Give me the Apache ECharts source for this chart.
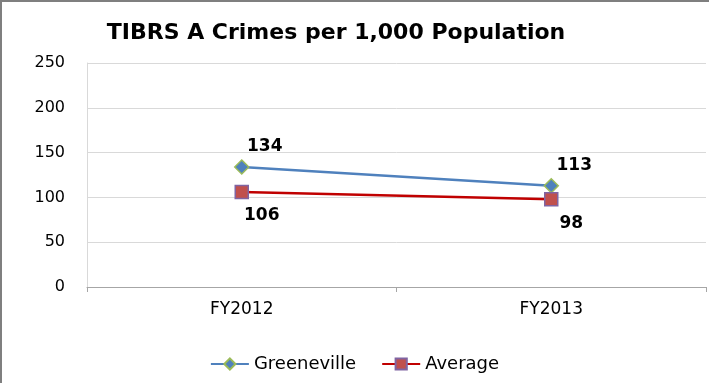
<!DOCTYPE html>
<html><head><meta charset="utf-8">
<script src="https://cdn.jsdelivr.net/npm/echarts@6/dist/echarts.min.js"></script>
<style>html,body{margin:0;padding:0;background:#fff}#c{width:709px;height:383px}</style>
</head><body><div id="c"></div>
<script>
const categories = ['FY2012', 'FY2013'];
const greeneville = [134, 113];
const average = [106, 98];
const yTicks = [0, 50, 100, 150, 200, 250];

const chart = echarts.init(document.getElementById('c'), null, {renderer: 'canvas'});
const font = "'DejaVu Sans', sans-serif";
chart.setOption({
  animation: false,
  backgroundColor: '#fff',
  title: {
    text: 'TIBRS A Crimes per 1,000 Population',
    left: 331, top: 17, textAlign: 'center',
    textStyle: {fontFamily: font, fontSize: 22, fontWeight: 'bold', color: '#000'}
  },
  graphic: [{
    type: 'rect', shape: {x: 1, y: 1, width: 720, height: 400},
    style: {fill: 'none', stroke: '#7f7f7f', lineWidth: 2}, silent: true
  }],
  legend: {
    top: 350, left: 'center', itemGap: 25, itemWidth: 38, itemHeight: 14,
    textStyle: {fontFamily: font, fontSize: 18, color: '#000'},
    data: ['Greeneville', 'Average']
  },
  grid: {left: 87, right: 3, top: 63, bottom: 96},
  xAxis: {
    type: 'category', data: categories, boundaryGap: true,
    axisLine: {lineStyle: {color: '#a6a6a6'}},
    axisTick: {show: true, length: 5, lineStyle: {color: '#a6a6a6'}},
    axisLabel: {fontFamily: font, fontSize: 17, color: '#000', margin: 14}
  },
  yAxis: {
    type: 'value', min: yTicks[0], max: yTicks[yTicks.length - 1], interval: 50,
    axisLine: {show: true, lineStyle: {color: '#d9d9d9'}},
    axisTick: {show: false},
    splitLine: {lineStyle: {color: '#d9d9d9'}},
    axisLabel: {fontFamily: font, fontSize: 16, color: '#000', margin: 22}
  },
  series: [{
    name: 'Greeneville', type: 'line', data: greeneville,
    symbol: 'diamond', symbolSize: 14,
    lineStyle: {color: '#4F81BD', width: 2.5},
    itemStyle: {color: '#4F81BD', borderColor: '#9BBB59', borderWidth: 1.5},
    label: {show: true, position: 'inside', offset: [23, -20], fontFamily: font, fontSize: 17, fontWeight: 'bold', color: '#000'}
  }, {
    name: 'Average', type: 'line', data: average,
    symbol: 'rect', symbolSize: 13,
    lineStyle: {color: '#C00000', width: 2.5},
    itemStyle: {color: '#C0504D', borderColor: '#8064A2', borderWidth: 1.5},
    label: {show: true, position: 'inside', offset: [20, 24], fontFamily: font, fontSize: 17, fontWeight: 'bold', color: '#000'}
  }]
});
</script></body></html>
